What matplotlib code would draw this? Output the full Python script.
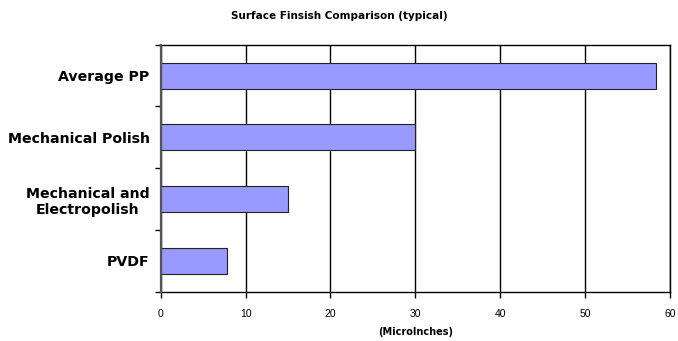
import numpy as np
import matplotlib.pyplot as plt

categories = ['PVDF', 'Mechanical and\nElectropolish', 'Mechanical Polish', 'Average PP']
finish = [7.8, 15, 30, 58.4]  # surface roughness, microinches
xticks = [0, 10, 20, 30, 40, 50, 60]

fig = plt.figure(figsize=(6.78, 3.41), dpi=100)
ax = fig.add_axes([0.237, 0.144, 0.751, 0.725])

ypos = np.arange(len(categories))
ax.barh(ypos, finish, height=0.42, color='#9999ff', edgecolor='#222222',
        linewidth=0.8, zorder=3)

ax.set_xlim(0, 60)
ax.set_ylim(-0.5, len(categories) - 0.5)
ax.set_xticks(xticks)
ax.set_xticklabels([str(t) for t in xticks], fontsize=7.5,
                   family='Liberation Sans')
ax.xaxis.grid(True, color='black', linewidth=1.0, zorder=0)

# category names on major ticks, short tick marks at the boundaries
ax.set_yticks(ypos)
ax.set_yticklabels(categories, fontsize=10.2, fontweight='bold')
for lbl in ax.get_yticklabels():
    lbl.set_multialignment('center')
ax.tick_params(axis='y', which='major', length=0, pad=8)
ax.set_yticks(np.arange(-0.5, len(categories), 1.0), minor=True)
ax.tick_params(axis='y', which='minor', length=4, width=1, direction='out')
ax.tick_params(axis='x', length=4, width=1, direction='out', pad=8)

for side in ['top', 'right', 'bottom']:
    ax.spines[side].set_linewidth(1.0)
    ax.spines[side].set_color('black')
ax.spines['left'].set_linewidth(1.6)
ax.spines['left'].set_color('#555555')
ax.spines['left'].set_zorder(4)

ax.set_xlabel('(MicroInches)', fontsize=7, fontweight='bold', labelpad=6)
fig.text(0.5, 0.952, 'Surface Finsish Comparison (typical)', ha='center',
         va='center', fontsize=7.5, fontweight='bold')

fig.savefig('out.png', dpi=100)
